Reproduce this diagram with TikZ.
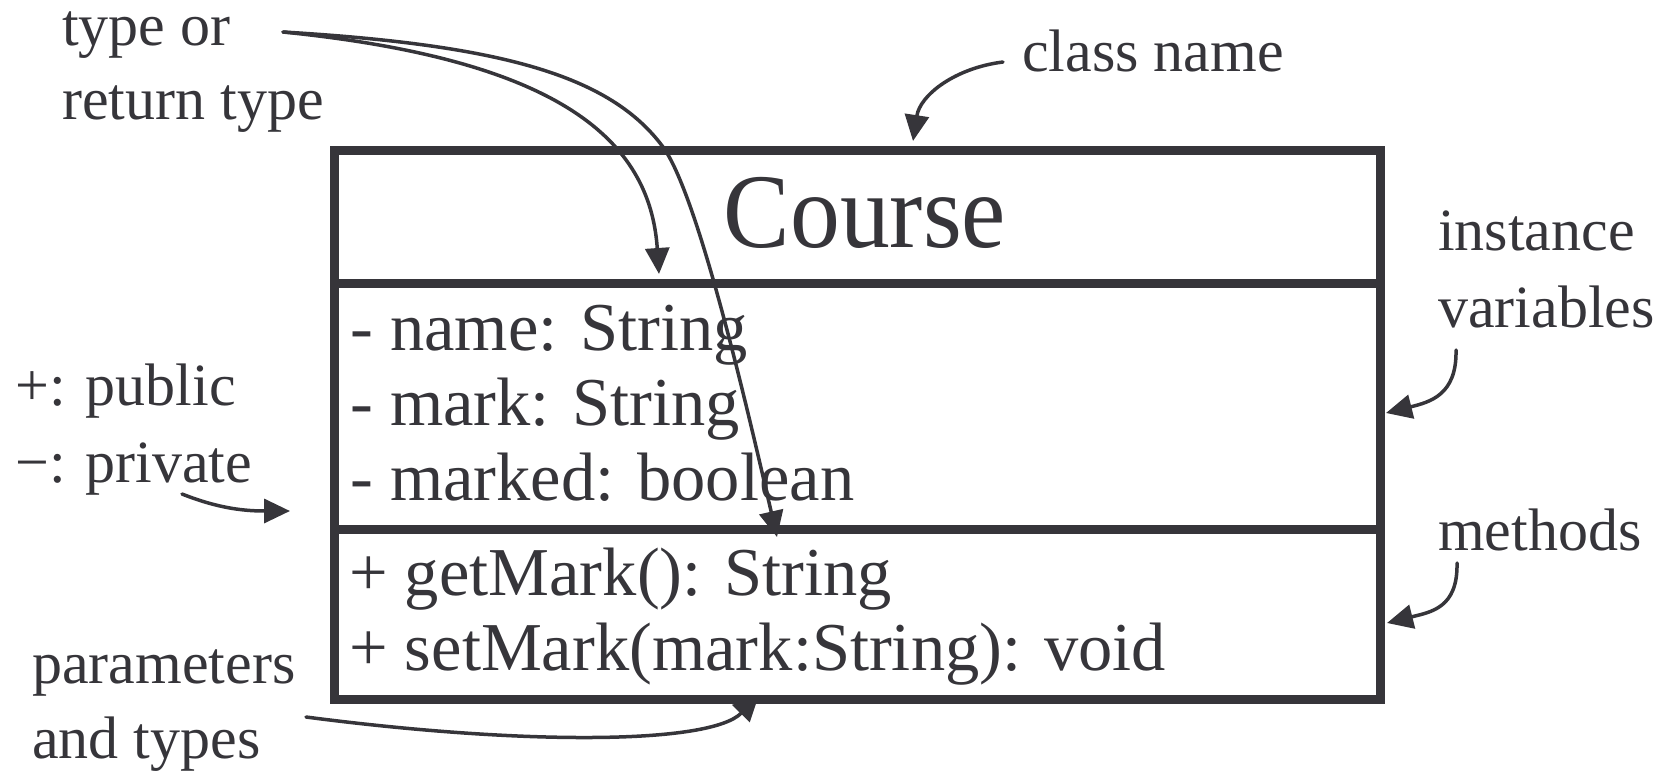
\documentclass[tikz,border=0pt]{standalone}
\usepackage{fontspec}
\setmainfont{Liberation Serif}
\newfontfamily\serfont{Liberation Serif}
\newfontfamily\coursefont[FakeStretch=0.94]{Liberation Serif}
\usetikzlibrary{arrows.meta}
\definecolor{gr}{RGB}{54,53,58}
\tikzset{
  cbox/.style={draw=gr, line width=9pt, rectangle, inner sep=0pt, outer sep=0pt,
    minimum width=1046pt, anchor=north west},
  item/.style={anchor=base west, inner sep=0pt, text=gr, font=\serfont\fontsize{68.5}{75}\selectfont},
  lbl/.style={anchor=base west, inner sep=0pt, text=gr, font=\serfont\fontsize{60}{76}\selectfont},
  conn/.style={draw=gr, line width=3.5pt, line cap=round, -{Triangle[length=26pt,width=24pt]}}
}
\begin{document}
\begin{tikzpicture}[x=1pt,y=-1pt]
\useasboundingbox (0,0) rectangle (1665,771);
% class box
\node[cbox, minimum height=133pt] (head) at (334,150.5) {};
\node[cbox, minimum height=245.5pt] (attr) at (334,283.5) {};
\node[cbox, minimum height=170pt] (meth) at (334,529) {};
\node[anchor=base, inner sep=0pt, text=gr, font=\coursefont\fontsize{106}{110}\selectfont] (cname) at (865,247) {Course};
% attributes
\node[item] (a1) at (350,350) {- name: String};
\node[item] (a2) at (350,425) {- mark: String};
\node[item] (a3) at (350,500) {- marked: boolean};
% methods
\node[item] (m1) at (349,595) {+ getMark(): String};
\node[item] (m2) at (349,670) {+ setMark(mark:String): void};
% labels
\node[lbl] (l1a) at (62,45) {type or};
\node[lbl] (l1b) at (62,119) {return type};
\node[lbl] (l2) at (1022,71) {class name};
\node[lbl] (l3a) at (1438,250) {instance};
\node[lbl] (l3b) at (1438,327) {variables};
\node[lbl] (l4) at (1438,550) {methods};
\node[lbl] (l5a) at (15,405) {+: public};
\node[lbl] (l5b) at (15,482) {−: private};
\node[lbl] (l6a) at (32,683) {parameters};
\node[lbl] (l6b) at (32,758) {and types};
% connector end points
\coordinate (t0) at (283,32);
\coordinate (t1) at (659,274);
\coordinate (t2m) at (663,147);
\coordinate (t2) at (777,537);
\coordinate (c0) at (1003,62);
\coordinate (c1) at (913,141);
\coordinate (i0) at (1456,350);
\coordinate (i1) at (1386,413);
\coordinate (n0) at (1457,563);
\coordinate (n1) at (1387,623);
\coordinate (p0) at (182,494);
\coordinate (p1) at (290,511);
\coordinate (q0) at (306,717);
\coordinate (q1) at (759,695);
% connectors
\draw[conn] (t0) .. controls (560,60) and (650,140) .. (t1);
\draw[conn] (t0) .. controls (500,45) and (610,75) .. (t2m) .. controls (698,195) and (747,407) .. (t2);
\draw[conn] (c0) .. controls (955,68) and (920,95) .. (c1);
\draw[conn] (i0) .. controls (1457,395) and (1430,402) .. (i1);
\draw[conn] (n0) .. controls (1458,608) and (1431,612) .. (n1);
\draw[conn] (p0) .. controls (215,507) and (240,511) .. (p1);
\draw[conn] (q0) .. controls (520,745) and (710,745) .. (q1);
\end{tikzpicture}
\end{document}
